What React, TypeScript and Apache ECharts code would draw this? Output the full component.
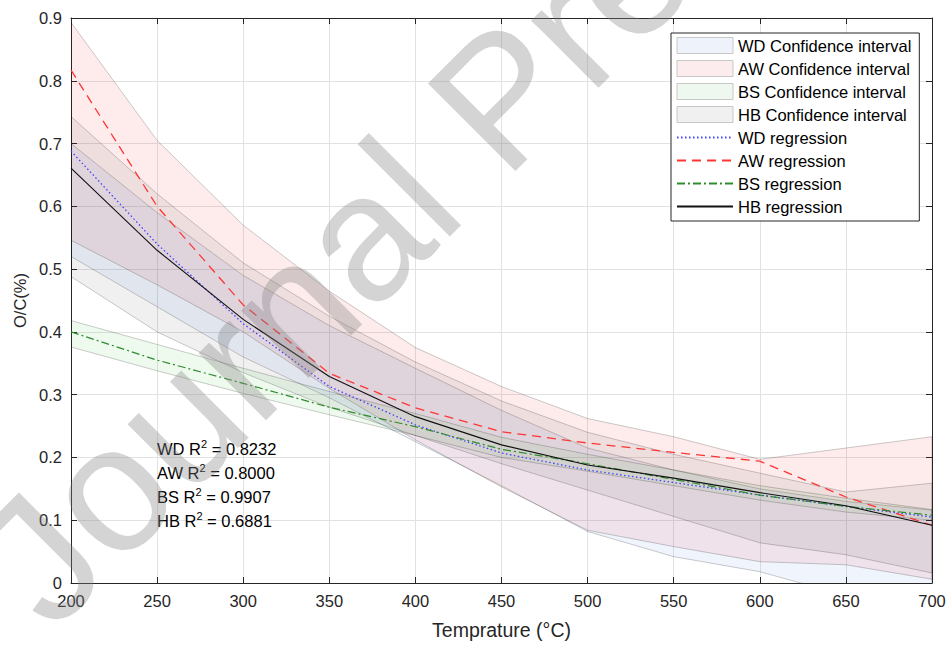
import React, { useEffect, useRef } from "react";
import * as echarts from "echarts";

const temps = [200, 250, 300, 350, 400, 450, 500, 550, 600, 650, 700];

const wdReg = [0.688, 0.54, 0.413, 0.313, 0.252, 0.207, 0.18, 0.16, 0.14, 0.122, 0.105];
const awReg = [0.817, 0.6, 0.443, 0.334, 0.279, 0.241, 0.223, 0.208, 0.194, 0.137, 0.092];
const bsReg = [0.4, 0.355, 0.318, 0.28, 0.249, 0.213, 0.19, 0.165, 0.14, 0.122, 0.108];
const hbReg = [0.661, 0.53, 0.42, 0.329, 0.265, 0.22, 0.188, 0.167, 0.144, 0.123, 0.092];

const wdUpper = [0.7, 0.59, 0.49, 0.41, 0.342, 0.275, 0.215, 0.18, 0.15, 0.13, 0.116];
const wdLower = [0.52, 0.44, 0.36, 0.295, 0.225, 0.155, 0.082, 0.042, 0.018, -0.02, -0.05];
const awUpper = [0.893, 0.705, 0.57, 0.465, 0.375, 0.313, 0.262, 0.233, 0.197, 0.215, 0.233];
const awLower = [0.546, 0.475, 0.4, 0.31, 0.228, 0.153, 0.084, 0.058, 0.034, 0.029, 0.006];
const bsUpper = [0.418, 0.38, 0.342, 0.305, 0.27, 0.232, 0.205, 0.18, 0.155, 0.135, 0.117];
const bsLower = [0.376, 0.338, 0.302, 0.268, 0.235, 0.2, 0.178, 0.155, 0.132, 0.113, 0.1];
const hbUpper = [0.743, 0.62, 0.51, 0.425, 0.352, 0.29, 0.24, 0.205, 0.175, 0.145, 0.159];
const hbLower = [0.488, 0.4, 0.335, 0.28, 0.235, 0.19, 0.148, 0.106, 0.064, 0.045, 0.016];

const r2Labels = ["WD", "AW", "BS", "HB"];
const r2Values = ["0.8232", "0.8000", "0.9907", "0.6881"];

const FONT = "Arial, 'Liberation Sans', Helvetica, sans-serif";
const EDGE = "rgba(0,0,0,0.2)";

function band(name: string, upper: number[], lower: number[], fill: string) {
  return {
    type: "custom",
    name,
    silent: true,
    clip: true,
    z: 1,
    itemStyle: { color: fill, borderColor: "#c8c8c8", borderWidth: 1 },
    data: [[temps[0], upper[0]]],
    encode: { x: 0, y: 1 },
    renderItem: (params: any, api: any) => {
      const pts: number[][] = [];
      for (let i = 0; i < temps.length; i++) pts.push(api.coord([temps[i], upper[i]]));
      for (let i = temps.length - 1; i >= 0; i--) pts.push(api.coord([temps[i], lower[i]]));
      const cs = params.coordSys;
      return {
        type: "polygon",
        shape: { points: pts },
        style: { fill, stroke: EDGE, lineWidth: 1 },
        clipPath: { type: "rect", shape: { x: cs.x, y: cs.y, width: cs.width, height: cs.height } },
      };
    },
  };
}

function line(name: string, vals: number[], color: string, type: any, width: number) {
  return {
    type: "line",
    name,
    data: temps.map((t, i) => [t, vals[i]]),
    symbol: "none",
    showSymbol: false,
    z: 3,
    lineStyle: { color, width, type },
    itemStyle: { color },
  };
}

export default function App() {
  const ref = useRef<HTMLDivElement>(null);
  useEffect(() => {
    const chart = echarts.init(ref.current!, null, { renderer: "svg" });
    const axisColor = "#262626";
    const bandFills = {
      wd: "rgba(40,110,230,0.075)",
      aw: "rgba(245,40,40,0.085)",
      bs: "rgba(40,190,40,0.075)",
      hb: "rgba(0,0,0,0.06)",
    };
    const r2Graphics = r2Labels.map((lab, i) => ({
      type: "text",
      x: 157,
      y: 449 + i * 24,
      z: 10,
      style: {
        text: `{a|${lab} R}{s|2}{a| = ${r2Values[i]}}`,
        verticalAlign: "middle",
        rich: {
          a: { fontSize: 16.5, fontFamily: FONT, fill: "#000", lineHeight: 22 },
          s: { fontSize: 11, fontFamily: FONT, fill: "#000", lineHeight: 10, verticalAlign: "top" },
        },
      },
    }));
    const hideSym = { opacity: 0 };
    chart.setOption({
      animation: false,
      backgroundColor: "#fff",
      grid: { left: 71, right: 17, top: 18, bottom: 63, containLabel: false },
      legend: {
        orient: "vertical",
        left: 671,
        top: 33,
        backgroundColor: "#fff",
        borderColor: axisColor,
        borderWidth: 1,
        borderRadius: 0,
        padding: [4, 8, 6, 5],
        itemWidth: 56,
        itemHeight: 16,
        itemGap: 6,
        selectedMode: false,
        textStyle: { fontSize: 16.5, color: "#000", fontFamily: FONT },
        data: [
          { name: "WD Confidence interval", icon: "rect", itemStyle: { color: "#eef3fb", borderColor: "#c8c8c8", borderWidth: 1 } },
          { name: "AW Confidence interval", icon: "rect", itemStyle: { color: "#fdeced", borderColor: "#c8c8c8", borderWidth: 1 } },
          { name: "BS Confidence interval", icon: "rect", itemStyle: { color: "#eef8ee", borderColor: "#c8c8c8", borderWidth: 1 } },
          { name: "HB Confidence interval", icon: "rect", itemStyle: { color: "#f0f0f0", borderColor: "#c8c8c8", borderWidth: 1 } },
          { name: "WD regression", itemStyle: hideSym },
          { name: "AW regression", itemStyle: hideSym },
          { name: "BS regression", itemStyle: hideSym },
          { name: "HB regression", itemStyle: hideSym },
        ],
      },
      xAxis: [
        {
          type: "value",
          min: 200,
          max: 700,
          interval: 50,
          position: "bottom",
          axisLine: { show: true, onZero: false, lineStyle: { color: axisColor } },
          axisTick: { show: true, inside: true, length: 6, lineStyle: { color: axisColor } },
          axisLabel: { fontSize: 16.5, color: axisColor, margin: 9, fontFamily: FONT },
          splitLine: { show: true, lineStyle: { color: "#e2e2e2" } },
          name: "Temprature (°C)",
          nameLocation: "middle",
          nameGap: 37,
          nameTextStyle: { fontSize: 19.5, color: axisColor, fontFamily: FONT },
        },
        {
          type: "value",
          min: 200,
          max: 700,
          interval: 50,
          position: "top",
          axisLine: { show: true, onZero: false, lineStyle: { color: axisColor } },
          axisTick: { show: true, inside: true, length: 6, lineStyle: { color: axisColor } },
          axisLabel: { show: false },
          splitLine: { show: false },
        },
      ],
      yAxis: [
        {
          type: "value",
          min: 0,
          max: 0.9,
          interval: 0.1,
          position: "left",
          axisLine: { show: true, onZero: false, lineStyle: { color: axisColor } },
          axisTick: { show: true, inside: true, length: 6, lineStyle: { color: axisColor } },
          axisLabel: { fontSize: 16.5, color: axisColor, margin: 9, fontFamily: FONT },
          splitLine: { show: true, lineStyle: { color: "#e2e2e2" } },
          name: "O/C(%)",
          nameLocation: "middle",
          nameGap: 42,
          nameTextStyle: { fontSize: 16.5, color: axisColor, fontFamily: FONT },
        },
        {
          type: "value",
          min: 0,
          max: 0.9,
          interval: 0.1,
          position: "right",
          axisLine: { show: true, onZero: false, lineStyle: { color: axisColor } },
          axisTick: { show: true, inside: true, length: 6, lineStyle: { color: axisColor } },
          axisLabel: { show: false },
          splitLine: { show: false },
        },
      ],
      series: [
        band("WD Confidence interval", wdUpper, wdLower, bandFills.wd),
        band("AW Confidence interval", awUpper, awLower, bandFills.aw),
        band("BS Confidence interval", bsUpper, bsLower, bandFills.bs),
        band("HB Confidence interval", hbUpper, hbLower, bandFills.hb),
        line("WD regression", wdReg, "#4040ff", [1.5, 2.5], 1.3),
        line("AW regression", awReg, "#ff3535", [9, 6], 1.3),
        line("BS regression", bsReg, "#2e8b2e", [8, 3, 2, 3], 1.2),
        line("HB regression", hbReg, "#111111", "solid", 1.1),
      ],
      graphic: [
        ...r2Graphics,
        {
          type: "text",
          x: 8,
          y: 590,
          rotation: Math.PI / 4,
          z: 100,
          silent: true,
          style: {
            text: "Journal Pre-proof",
            fontSize: 180,
            fontFamily: FONT,
            fill: "rgba(128,128,128,0.34)",
            align: "left",
            verticalAlign: "middle",
          },
        },
      ],
    });
    return () => chart.dispose();
  }, []);
  return (
    <div
      ref={ref}
      style={{ position: "absolute", left: 0, top: 0, width: 949, height: 646 }}
    />
  );
}
